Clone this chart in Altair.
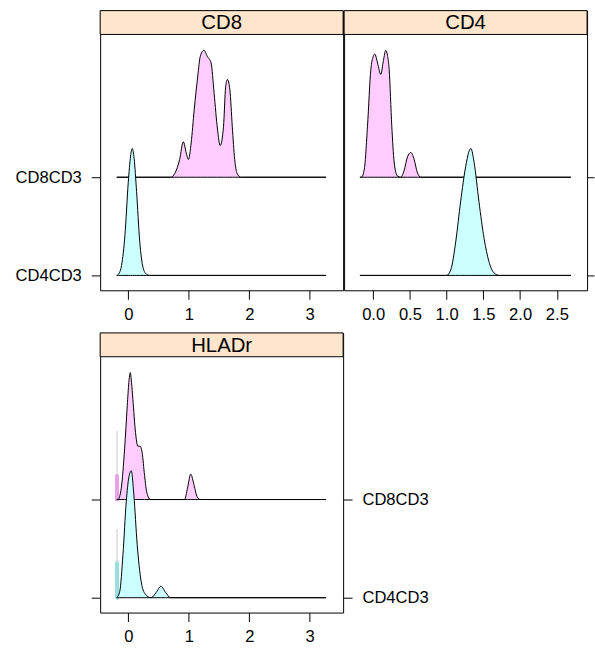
import altair as alt
import pandas as pd

# ---------------- data ----------------
panels = ["CD8", "CD4", "HLADr"]
rows = ["CD8CD3", "CD4CD3"]          # upper row, lower row
row_pos = {"CD8CD3": 2, "CD4CD3": 1}

# CD8 panel
cd8_top_x = [-0.19, 0.70, 0.77, 0.85, 0.91, 0.96, 0.995, 1.04, 1.09, 1.15, 1.19, 1.25, 1.31, 1.37,
             1.42, 1.475, 1.52, 1.575, 1.61, 1.64, 1.68, 1.72, 1.76, 1.80, 1.86, 3.27]
cd8_top_h = [0, 0, 0.03, 0.14, 0.28, 0.19, 0.14, 0.27, 0.53, 0.80, 0.95, 1.0, 0.95, 0.90,
             0.66, 0.38, 0.25, 0.40, 0.71, 0.77, 0.69, 0.40, 0.14, 0.03, 0, 0]
cd8_bot_x = [-0.19, -0.16, -0.11, -0.054, 0.0, 0.039, 0.066, 0.098, 0.138, 0.19, 0.246, 0.30, 0.35, 3.27]
cd8_bot_h = [0, 0.01, 0.08, 0.32, 0.73, 0.94, 1.0, 0.92, 0.66, 0.27, 0.06, 0.01, 0, 0]

# CD4 panel
cd4_top_x = [-0.18, -0.16, -0.12, -0.077, -0.031, 0.0, 0.023, 0.06, 0.104, 0.14, 0.172, 0.195,
             0.218, 0.254, 0.286, 0.33, 0.376, 0.42, 0.467, 0.513, 0.558, 0.60, 0.65, 2.69]
cd4_top_h = [0, 0.0, 0.065, 0.40, 0.85, 0.95, 0.97, 0.90, 0.81, 0.92, 1.0, 0.96,
             0.85, 0.40, 0.12, 0.01, 0, 0.05, 0.16, 0.195, 0.14, 0.04, 0, 0]
cd4_bot_x = [-0.18, 1.00, 1.057, 1.125, 1.19, 1.26, 1.30, 1.33, 1.374, 1.44, 1.51, 1.575, 1.645, 1.72, 2.69]
cd4_bot_h = [0, 0, 0.045, 0.27, 0.58, 0.86, 0.97, 1.0, 0.89, 0.58, 0.29, 0.11, 0.02, 0, 0]

# HLADr panel
hla_top_x = [-0.19, -0.17, -0.115, -0.06, -0.016, 0.01, 0.033, 0.055, 0.077, 0.12, 0.16, 0.197,
             0.23, 0.27, 0.31, 0.37, 0.93, 0.98, 1.033, 1.09, 1.14, 1.19, 3.27]
hla_top_h = [0, 0, 0.09, 0.40, 0.74, 0.92, 1.0, 0.92, 0.79, 0.53, 0.42, 0.42,
             0.37, 0.19, 0.05, 0, 0, 0.09, 0.20, 0.11, 0.02, 0, 0]
hla_bot_x = [-0.19, -0.14, -0.087, -0.033, 0.011, 0.05, 0.093, 0.148, 0.213, 0.28, 0.377,
             0.46, 0.54, 0.62, 0.70, 3.27]
hla_bot_h = [0, 0.05, 0.34, 0.755, 0.95, 1.0, 0.81, 0.42, 0.13, 0.03, 0.0,
             0.04, 0.09, 0.04, 0, 0]

# HLADr boundary box/whisker markers (in row units)
box_x = [-0.185, -0.185]
box_whisker = [0.70, 0.70]
box_height = [0.24, 0.35]

# ticks
ticks_wide = [0, 1, 2, 3]
ticks_cd4 = [0.0, 0.5, 1.0, 1.5, 2.0, 2.5]

# ---------------- styling ----------------
FONT = "Liberation Sans"
AX_FS = 16.7
STRIP_FS = 20.5
SCALE_H = 1.293
Y_DOMAIN = [0.8485, 3.697]
PW, PH = 245, 282
STRIP_H = 24
FILL = {"CD8CD3": "#FFCCFF", "CD4CD3": "#CCFFFF"}
BOXCOL = {"CD8CD3": "#E9A0E9", "CD4CD3": "#98E0E0"}
LEFT_EXT = 88
LABEL_EXPR = f"datum.value == 2 ? '{rows[0]}' : '{rows[1]}'"


def dens_df(xs, hs, row):
    b = row_pos[row]
    return pd.DataFrame({"x": xs, "base": [b] * len(xs), "top": [b + v * SCALE_H for v in hs]})


def x_axis(ticks, fmt):
    return alt.Axis(values=ticks, format=fmt, title=None, grid=False, domain=False,
                    tickSize=9, tickColor="black", labelPadding=7, labelFont=FONT,
                    labelFontSize=AX_FS, labelColor="black", labelFlush=False)


def y_axis(orient, labels, tick=9):
    kw = dict(values=[1, 2], title=None, grid=False, domain=False, orient=orient,
              tickSize=tick, tickColor="black", labels=labels)
    if labels:
        kw.update(labelExpr=LABEL_EXPR, labelFont=FONT, labelFontSize=AX_FS,
                  labelColor="black", labelPadding=10)
    if orient == "left":
        kw.update(minExtent=LEFT_EXT, maxExtent=LEFT_EXT)
    return alt.Axis(**kw)


def panel(name, series, xdomain, ticks, fmt, y_axes, boxes=False):
    xs = alt.Scale(domain=xdomain, nice=False, zero=False)
    ys = alt.Scale(domain=Y_DOMAIN, nice=False, zero=False)
    xa = x_axis(ticks, fmt)
    layers = []
    if boxes:
        for row, bx, w, h in zip(rows, box_x, box_whisker, box_height):
            b = row_pos[row]
            bdf = pd.DataFrame({"x": [bx], "base": [b], "wtop": [b + w], "btop": [b + h]})
            layers.append(alt.Chart(bdf).mark_rule(color="#C8C8C8", strokeWidth=1).encode(
                x=alt.X("x:Q", scale=xs, axis=xa),
                y=alt.Y("base:Q", scale=ys, axis=None), y2="wtop:Q"))
            layers.append(alt.Chart(bdf).mark_rule(color=BOXCOL[row], strokeWidth=4,
                                                   strokeCap="round").encode(
                x=alt.X("x:Q", scale=xs, axis=xa),
                y=alt.Y("base:Q", scale=ys, axis=None), y2="btop:Q"))
    for i, (row, xv, hv) in enumerate(series):
        ya = y_axes[i] if i < len(y_axes) else None
        layers.append(alt.Chart(dens_df(xv, hv, row)).mark_area(
            fill=FILL[row], stroke="black", strokeWidth=1, interpolate="monotone").encode(
            x=alt.X("x:Q", scale=xs, axis=xa),
            y=alt.Y("top:Q", scale=ys, axis=ya),
            y2="base:Q"))
    sdf = pd.DataFrame({"label": [name]})
    layers.append(alt.Chart(sdf).mark_rect(fill="#FFE5CC", stroke="black", strokeWidth=1).encode(
        x=alt.value(0), x2=alt.value(PW), y=alt.value(0), y2=alt.value(STRIP_H)))
    layers.append(alt.Chart(sdf).mark_text(font=FONT, fontSize=STRIP_FS, fontWeight="normal",
                                            color="black", align="center", baseline="middle").encode(
        x=alt.value(PW / 2), y=alt.value(STRIP_H / 2 + 1), text="label:N"))
    return alt.layer(*layers).resolve_axis(y="independent").properties(width=PW, height=PH)


wide_dom = [-0.464, 3.552]
cd4_dom = [-0.395, 2.911]

p_cd8 = panel(panels[0], [("CD8CD3", cd8_top_x, cd8_top_h), ("CD4CD3", cd8_bot_x, cd8_bot_h)],
              wide_dom, ticks_wide, "d", [y_axis("left", True)])
p_cd4 = panel(panels[1], [("CD8CD3", cd4_top_x, cd4_top_h), ("CD4CD3", cd4_bot_x, cd4_bot_h)],
              cd4_dom, ticks_cd4, ".1f", [y_axis("right", False, tick=7)])
p_hla = panel(panels[2], [("CD8CD3", hla_top_x, hla_top_h), ("CD4CD3", hla_bot_x, hla_bot_h)],
              wide_dom, ticks_wide, "d", [y_axis("left", False), y_axis("right", True)], boxes=True)

top = alt.hconcat(p_cd8, p_cd4, spacing=-1)
chart = alt.vconcat(top, p_hla, spacing=8).properties(
    padding={"left": 12, "top": 7, "right": 0, "bottom": 0},
    background="white",
).configure_view(stroke="black", strokeWidth=1)

chart.save("out.html", embed_options={"renderer": "svg", "actions": False})
